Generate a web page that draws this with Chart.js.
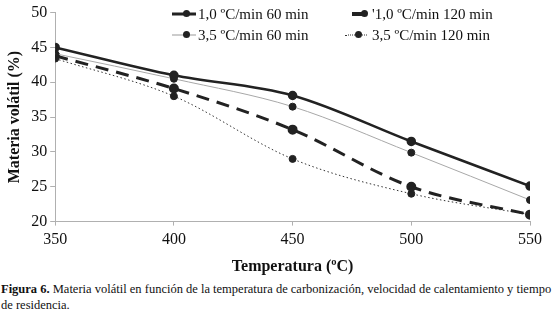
<!DOCTYPE html>
<html>
<head>
<meta charset="utf-8">
<script src="https://cdn.jsdelivr.net/npm/chart.js@4"></script>
<style>
  body { margin: 0; background: #fff; font-family: "Liberation Serif", serif; }
  #wrap { position: relative; width: 558px; height: 280px; }
  #legend { position: absolute; left: 0; top: 0; width: 558px; height: 50px; pointer-events: none; }
  .item { position: absolute; font-size: 15px; color: #111; white-space: nowrap; line-height: 18px; }
  .sample { position: absolute; height: 0; }
  .dot { position: absolute; width: 7px; height: 7px; border-radius: 50%; background: #222; }
  #caption { position: absolute; left: 1px; top: 281px; width: 556px; font-size: 12.5px; line-height: 16px; color: #111; }
</style>
</head>
<body>
<div id="wrap">
  <canvas id="volChart"></canvas>
  <div id="legend"></div>
</div>
<div id="caption"><b>Figura 6.</b> Materia volátil en función de la temperatura de carbonización, velocidad de calentamiento y tiempo de residencia.</div>
<script>
// temperatures (ºC)
let temps = [350, 400, 450, 500, 550];
// materia volátil (%)
let s10_60 = [45.0, 41.0, 38.1, 31.5, 25.1];
let s35_60 = [44.1, 40.5, 36.5, 29.9, 23.1];
let s10_120 = [43.8, 39.1, 33.2, 25.0, 21.0];
let s35_120 = [43.4, 38.0, 29.0, 24.0, 21.0];
let seriesNames = ["1,0 ºC/min 60 min", "3,5 ºC/min 60 min", "'1,0 ºC/min 120 min", "3,5 ºC/min 120 min"];

function pts(vals) {
    return temps.map(function(t, i) { return {x: t, y: vals[i]}; });
}

function buildLegend() {
    let legend = document.getElementById('legend');
    let entries = [
        {name: seriesNames[0], x: 172, y: 5, w: 24, border: '3px solid #222', dx: 11, tx: 26},
        {name: seriesNames[2], x: 352, y: 5, w: 14, border: '4px solid #222', dx: 9, tx: 20},
        {name: seriesNames[1], x: 172, y: 26, w: 24, border: '1px solid #999', dx: 11, tx: 26},
        {name: seriesNames[3], x: 345, y: 26, w: 22, border: '1px dotted #333', dx: 10, tx: 27}
    ];
    entries.forEach(function(e) {
        let s = document.createElement('div');
        s.className = 'sample';
        s.style.left = e.x + 'px';
        s.style.width = e.w + 'px';
        s.style.top = (e.y + 9) + 'px';
        s.style.borderTop = e.border;
        s.style.transform = 'translateY(-50%)';
        legend.appendChild(s);
        let d = document.createElement('div');
        d.className = 'dot';
        d.style.left = (e.x + e.dx) + 'px';
        d.style.top = (e.y + 5) + 'px';
        legend.appendChild(d);
        let t = document.createElement('div');
        t.className = 'item';
        t.style.left = (e.x + e.tx) + 'px';
        t.style.top = e.y + 'px';
        t.textContent = e.name;
        legend.appendChild(t);
    });
}

function manageVolatilChart() {
    let ctx = document.getElementById("volChart").getContext('2d');
    new Chart(ctx, {
        type: 'line',
        data: {
            datasets: [{
                label: seriesNames[0],
                data: pts(s10_60),
                borderColor: '#222',
                borderWidth: 2.5,
                pointBackgroundColor: '#222',
                pointBorderColor: '#222',
                pointRadius: 3.5
            }, {
                label: seriesNames[1],
                data: pts(s35_60),
                borderColor: '#a8a8a8',
                borderWidth: 1,
                pointBackgroundColor: '#222',
                pointBorderColor: '#222',
                pointRadius: 3.5
            }, {
                label: seriesNames[2],
                data: pts(s10_120),
                borderColor: '#222',
                borderWidth: 3,
                borderDash: [13, 8],
                pointBackgroundColor: '#222',
                pointBorderColor: '#222',
                pointRadius: 3.5
            }, {
                label: seriesNames[3],
                data: pts(s35_120),
                borderColor: '#333',
                borderWidth: 1,
                borderDash: [1.5, 2.5],
                pointBackgroundColor: '#222',
                pointBorderColor: '#222',
                pointRadius: 3.5
            }]
        },
        options: {
            responsive: true,
            maintainAspectRatio: false,
            animation: false,
            cubicInterpolationMode: 'monotone',
            layout: { padding: { left: 1, right: 28, top: 8, bottom: 0 } },
            plugins: {
                legend: { display: false },
                tooltip: { enabled: false }
            },
            scales: {
                x: {
                    type: 'linear',
                    min: 350,
                    max: 550,
                    ticks: { stepSize: 50, color: '#111', padding: 5, font: { family: 'Liberation Serif', size: 16 } },
                    grid: { drawOnChartArea: false, tickLength: 4, color: '#b0b0b0' },
                    border: { color: '#b0b0b0' },
                    title: { display: true, text: 'Temperatura (ºC)', color: '#111', padding: { top: 2 }, font: { family: 'Liberation Serif', size: 16, weight: 'bold' } }
                },
                y: {
                    min: 20,
                    max: 50,
                    ticks: { stepSize: 5, color: '#111', padding: 3, font: { family: 'Liberation Serif', size: 16 } },
                    grid: { drawOnChartArea: false, tickLength: 5, color: '#b0b0b0' },
                    border: { color: '#b0b0b0' },
                    title: { display: true, text: 'Materia volátil (%)', color: '#111', padding: { bottom: 4 }, font: { family: 'Liberation Serif', size: 16, weight: 'bold' } }
                }
            }
        }
    });
}

buildLegend();
manageVolatilChart();
</script>
</body>
</html>
